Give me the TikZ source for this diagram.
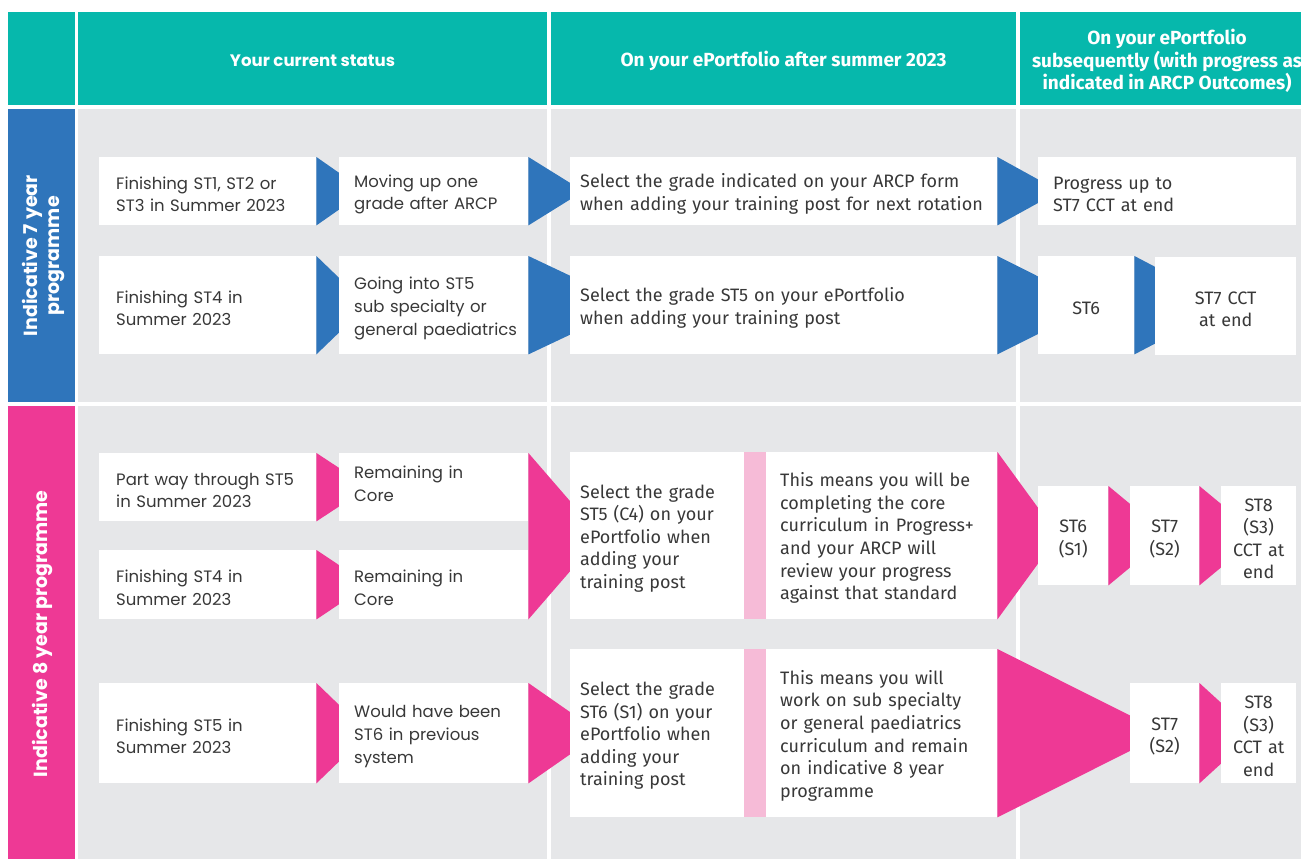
\documentclass[tikz,border=0pt]{standalone}
\usepackage{fontspec}
\setmainfont{Fira Sans}
\newfontfamily\geofont{Poppins}
\newfontfamily\humfont{Fira Sans}
\usetikzlibrary{calc}

\definecolor{hdteal}{HTML}{06B8AC}
\definecolor{progblue}{HTML}{2F75BB}
\definecolor{progpink}{HTML}{EE3995}
\definecolor{softpink}{HTML}{F6BBD7}
\definecolor{cellgray}{HTML}{E6E7E9}
\definecolor{inktext}{HTML}{383838}

\pgfdeclarelayer{cells}
\pgfdeclarelayer{chevrons}
\pgfsetlayers{cells,chevrons,main}

\tikzset{
  geo/.style={font=\geofont\fontsize{16.5}{22.6}\selectfont},
  hum/.style={font=\humfont\fontsize{18}{22.6}\selectfont},
  htext/.style={text=white, align=center, inner sep=0pt},
  % a tall first line drops each block of text a little inside its box
  lowered/.style={execute at begin node={\rule{0pt}{19pt}}},
  tbox/.style n args={4}{anchor=north west, fill=white, minimum width=#1pt,
    minimum height=#2pt, inner xsep=#3pt, inner ysep=0pt, text width=#4pt,
    align=left, text=inktext, lowered},
  cbox/.style n args={2}{anchor=north west, fill=white, minimum width=#1pt,
    minimum height=#2pt, inner sep=0pt, text width=#1pt, align=center,
    text=inktext, lowered},
  strip/.style n args={2}{anchor=north west, fill=softpink, minimum width=#1pt,
    minimum height=#2pt, inner sep=0pt},
  band/.style n args={3}{anchor=north west, fill=#3, minimum width=#1pt,
    minimum height=#2pt, inner sep=0pt},
  bandtext/.style={rotate=90, text=white, align=center,
    font=\geofont\bfseries\fontsize{19}{21.5}\selectfont},
}

\begin{document}
\begin{tikzpicture}[x=1pt,y=-1pt]
\useasboundingbox (0,0) rectangle (1301,859);
\begin{pgfonlayer}{cells}
\fill[white] (0,0) rectangle (1301,859);
% header row
\fill[hdteal] (8,12) rectangle (75,105);
\fill[hdteal] (78,12) rectangle (547,105);
\fill[hdteal] (551,12) rectangle (1016,105);
\fill[hdteal] (1020,12) rectangle (1320,105);
% grey cells behind the two programmes
\fill[cellgray] (78,109) rectangle (547,402);
\fill[cellgray] (551,109) rectangle (1016,402);
\fill[cellgray] (1020,109) rectangle (1320,402);
\fill[cellgray] (78,406) rectangle (547,880);
\fill[cellgray] (551,406) rectangle (1016,880);
\fill[cellgray] (1020,406) rectangle (1320,880);
\end{pgfonlayer}

% column headings
\node[htext, font=\geofont\bfseries\fontsize{16.6}{20}\selectfont] (h1) at (312.5,61) {Your current status};
\node[htext, font=\humfont\bfseries\fontsize{19}{22.5}\selectfont] (h2) at (783.5,61) {On your ePortfolio after summer 2023};
\node[htext, font=\humfont\bfseries\fontsize{19}{22.5}\selectfont] (h3) at (1167,61) {On your ePortfolio\\subsequently (with progress as\\indicated in ARCP Outcomes)};

% programme bands
\node[band={67}{293}{progblue}] (b7) at (8,109) {};
\node[bandtext] (t7) at ($(b7.center)+(2,0)$) {Indicative 7 year\\programme};
\node[band={67}{470}{progpink}] (b8) at (8,406) {};
\node[bandtext] (t8) at ($(b8.north)+(1,228)$) {Indicative 8 year programme};

% ---------- indicative 7 year programme ----------
\begin{scope}[geo]
\node[tbox={217}{68}{17}{183}] (a1) at (99,157) {Finishing ST1, ST2 or\\ST3 in Summer 2023};
\node[tbox={189}{68}{15}{159}] (b1) at (339,157) {Moving up one\\grade after ARCP};
\node[tbox={217}{98}{17}{183}] (a2) at (99,256) {Finishing ST4 in\\Summer 2023};
\node[tbox={189}{98}{15}{159}] (b2) at (339,256) {Going into ST5\\sub specialty or\\\mbox{general paediatrics}};
\end{scope}
\begin{scope}[hum]
\node[tbox={427}{68}{10}{407}] (c1) at (570,157) {Select the grade indicated on your ARCP form\\when adding your training post for next rotation};
\node[tbox={258}{68}{15}{228}] (d1) at (1038,157) {Progress up to\\ST7 CCT at end};
\node[tbox={427}{98}{10}{407}] (c2) at (570,256) {Select the grade ST5 on your ePortfolio\\when adding your training post};
\node[cbox={96}{98}] (e2) at (1038,256) {ST6};
\node[cbox={141}{98}] (f2) at (1155,257) {ST7 CCT\\at end};
\end{scope}

% ---------- indicative 8 year programme ----------
\begin{scope}[geo]
\node[tbox={217}{68}{17}{183}] (a3) at (99,453) {Part way through ST5\\in Summer 2023};
\node[tbox={189}{68}{15}{159}] (b3) at (339,453) {Remaining in\\Core\rule[-14pt]{0pt}{14pt}};
\node[tbox={217}{69}{17}{183}] (a4) at (99,550) {Finishing ST4 in\\Summer 2023};
\node[tbox={189}{69}{15}{159}] (b4) at (339,550) {Remaining in\\Core};
\node[tbox={217}{100}{17}{183}] (a5) at (99,683) {Finishing ST5 in\\Summer 2023};
\node[tbox={189}{100}{15}{159}] (b5) at (339,683) {Would have been\\ST6 in previous\\system};
\end{scope}
\begin{scope}[hum]
\node[tbox={174}{167}{10}{154}] (c3) at (570,452) {Select the grade\\ST5 (C4) on your\\ePortfolio when\\adding your\\training post};
\node[strip={22}{167}] (s3) at (744,452) {};
\node[tbox={231}{167}{14}{203}] (c3b) at (766,452) {This means you will be\\completing the core\\curriculum in Progress+\\and your ARCP will\\review your progress\\against that standard};
\node[cbox={70}{99}] (g3) at (1038,486) {ST6\\(S1)};
\node[cbox={69}{99}] (h3b) at (1130,486) {ST7\\(S2)};
\node[cbox={75}{99}] (i3) at (1221,486) {ST8\\(S3)\\CCT at\\end};
\node[tbox={174}{168}{10}{154}] (c5) at (570,649) {Select the grade\\ST6 (S1) on your\\ePortfolio when\\adding your\\training post};
\node[strip={22}{168}] (s5) at (744,649) {};
\node[tbox={231}{168}{14}{203}] (c5b) at (766,649) {This means you will\\work on sub specialty\\or general paediatrics\\curriculum and remain\\on indicative 8 year\\programme};
\node[cbox={69}{100}] (h5) at (1130,683) {ST7\\(S2)};
\node[cbox={75}{100}] (i5) at (1221,683) {ST8\\(S3)\\CCT at\\end};
\end{scope}

% chevrons, tucked behind the box that follows each one
\begin{pgfonlayer}{chevrons}
\fill[progblue] (a1.north east) -- (a1.south east) -- ($(a1.east)+(49,0)$) -- cycle;
\fill[progblue] (b1.north east) -- (b1.south east) -- ($(b1.east)+(55,0)$) -- cycle;
\fill[progblue] (c1.north east) -- (c1.south east) -- ($(c1.east)+(62,0)$) -- cycle;
\fill[progblue] (a2.north east) -- (a2.south east) -- ($(a2.east)+(51,0)$) -- cycle;
\fill[progblue] (b2.north east) -- (b2.south east) -- ($(b2.east)+(104,0)$) -- cycle;
\fill[progblue] (c2.north east) -- (c2.south east) -- ($(c2.east)+(98,0)$) -- cycle;
\fill[progblue] (e2.north east) -- (e2.south east) -- ($(e2.east)+(94,0)$) -- cycle;

\fill[progpink] (a3.north east) -- (a3.south east) -- ($(a3.east)+(52,0)$) -- cycle;
\fill[progpink] (a4.north east) -- (a4.south east) -- ($(a4.east)+(52,0)$) -- cycle;
\fill[progpink] (b3.north east) -- (b4.south east) -- ($(b3.north east)!0.5!(b4.south east)+(72,0)$) -- cycle;
\fill[progpink] (c3b.north east) -- (c3b.south east) -- ($(c3b.east)+(61,0)$) -- cycle;
\fill[progpink] (g3.north east) -- (g3.south east) -- ($(g3.east)+(60,0)$) -- cycle;
\fill[progpink] (h3b.north east) -- (h3b.south east) -- ($(h3b.east)+(60,0)$) -- cycle;
\fill[progpink] (a5.north east) -- (a5.south east) -- ($(a5.east)+(52,0)$) -- cycle;
\fill[progpink] (b5.north east) -- (b5.south east) -- ($(b5.east)+(72,0)$) -- cycle;
\fill[progpink] (c5b.north east) -- (c5b.south east) -- ($(c5b.east)+(168,0)$) -- cycle;
\fill[progpink] (h5.north east) -- (h5.south east) -- ($(h5.east)+(55,0)$) -- cycle;
\end{pgfonlayer}
\end{tikzpicture}
\end{document}
